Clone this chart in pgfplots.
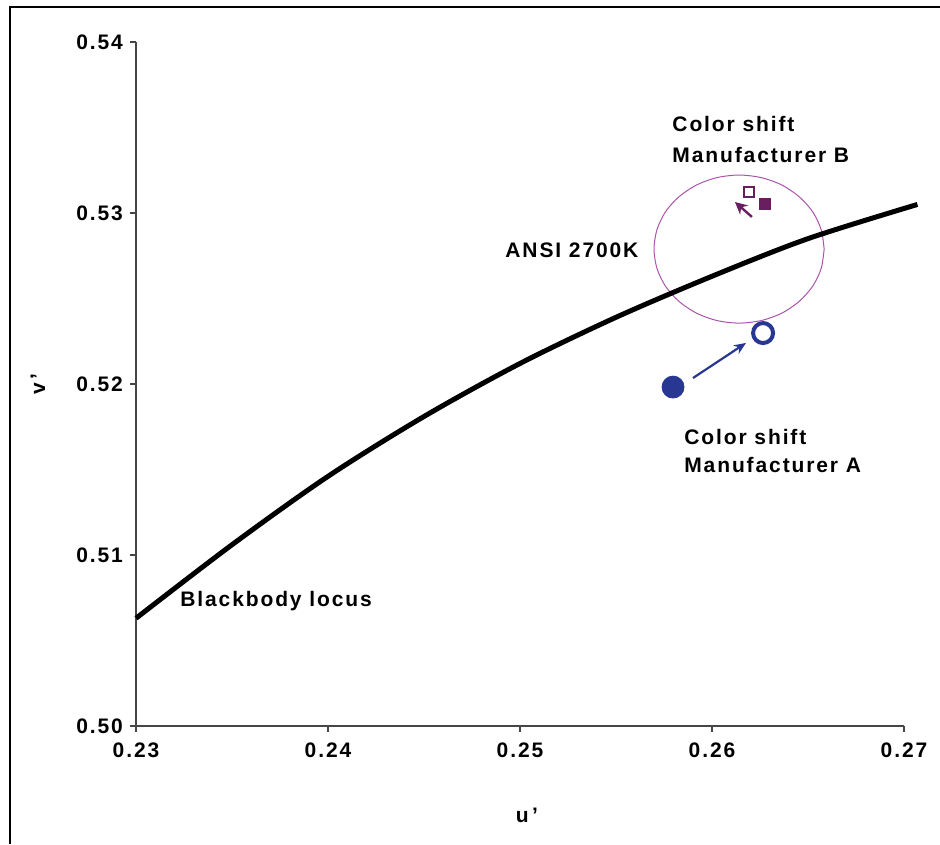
\documentclass[border=0pt]{standalone}
\usepackage{fontspec}
\setmainfont{Liberation Sans}[LetterSpace=9]
\usepackage{pgfplots}
\pgfplotsset{compat=1.18}
\usetikzlibrary{arrows.meta}
\definecolor{axisgray}{RGB}{70,70,70}
\definecolor{navyA}{RGB}{40,55,145}
\definecolor{plumB}{RGB}{105,30,95}
\definecolor{ansi}{RGB}{170,85,170}
\newcommand\lbl{\bfseries\fontsize{10.5}{12}\selectfont}
\begin{document}
\begin{tikzpicture}[x=1pt,y=1pt]
\useasboundingbox (0,0) rectangle (470,422);
\draw[line width=1pt] (5,0) -- (5,418.5) -- (470,418.5);
\begin{axis}[
  at={(68pt,59pt)}, anchor=south west,
  scale only axis, width=384pt, height=342pt,
  xmin=0.23, xmax=0.27, ymin=0.50, ymax=0.54,
  clip=false,
  axis lines=left,
  axis line style={axisgray, line width=0.8pt, -},
  tick align=outside,
  major tick length=3pt,
  tick style={axisgray, line width=0.8pt},
  xtick={0.23,0.24,0.25,0.26,0.27},
  xticklabels={0.23,0.24,0.25,0.26,0.27},
  ytick={0.50,0.51,0.52,0.53,0.54},
  yticklabels={0.50,0.51,0.52,0.53,0.54},
  ticklabel style={font=\lbl},
  xticklabel style={yshift=-2pt},
  xlabel={u\,'},
  ylabel={v\,'},
  xlabel style={font=\lbl, at={(axis description cs:0.509,-0.130)}, anchor=center},
  ylabel style={font=\lbl, at={(axis description cs:-0.1276,0.5)}, anchor=center},
]
% ANSI 2700K quadrangle (circle)
\addplot[ansi, line width=0.5pt, smooth] coordinates {
(0.26584,0.52789)(0.26569,0.52901)(0.26525,0.53006)(0.26454,0.53095)
(0.26363,0.53164)(0.26256,0.53207)(0.26141,0.53222)(0.26026,0.53207)
(0.25920,0.53164)(0.25828,0.53095)(0.25757,0.53006)(0.25713,0.52901)
(0.25698,0.52789)(0.25713,0.52677)(0.25757,0.52573)(0.25828,0.52483)
(0.25920,0.52414)(0.26026,0.52371)(0.26141,0.52356)(0.26256,0.52371)
(0.26363,0.52414)(0.26454,0.52483)(0.26525,0.52573)(0.26569,0.52677)
(0.26584,0.52789)};
% Blackbody locus
\addplot[black, line width=2.5pt, smooth] coordinates {
(0.2300,0.5063)(0.2350,0.5106)(0.2400,0.5146)(0.2450,0.5181)
(0.2500,0.5212)(0.2550,0.5239)(0.2600,0.5263)(0.2650,0.5285)(0.2707,0.5305)};
% Manufacturer A
\addplot[navyA, line width=1.1pt, -{Stealth[length=6pt,width=5pt]}] coordinates {(0.25901,0.52035)(0.26177,0.5224)};
\addplot[only marks, mark=*, mark size=5.5pt, navyA, mark options={fill=navyA}] coordinates {(0.25797,0.51982)};
\addplot[only marks, mark=o, mark size=5pt, navyA, mark options={line width=2pt, fill=white}] coordinates {(0.26266,0.52298)};
% Manufacturer B
\addplot[plumB, line width=1.2pt, -{Stealth[length=6pt,width=6pt]}] coordinates {(0.26208,0.52977)(0.2612,0.53064)};
\addplot[only marks, mark=square, mark size=2.5pt, plumB, mark options={line width=0.6pt, fill=white}] coordinates {(0.26193,0.53123)};
\addplot[only marks, mark=square*, mark size=2.7pt, plumB, mark options={fill=plumB}] coordinates {(0.26276,0.53053)};
% labels
\node[anchor=west, font=\lbl, inner sep=0pt] at (axis cs:0.25792,0.53520) {Color shift};
\node[anchor=west, font=\lbl, inner sep=0pt] at (axis cs:0.25792,0.53339) {Manufacturer B};
\node[anchor=west, font=\lbl, inner sep=0pt] at (axis cs:0.24922,0.52784) {ANSI 2700K};
\node[anchor=west, font=\lbl, inner sep=0pt] at (axis cs:0.25854,0.51690) {Color shift};
\node[anchor=west, font=\lbl, inner sep=0pt] at (axis cs:0.25854,0.51526) {Manufacturer A};
\node[anchor=west, font=\lbl, inner sep=0pt] at (axis cs:0.23229,0.50731) {Blackbody locus};
\end{axis}
\end{tikzpicture}
\end{document}
